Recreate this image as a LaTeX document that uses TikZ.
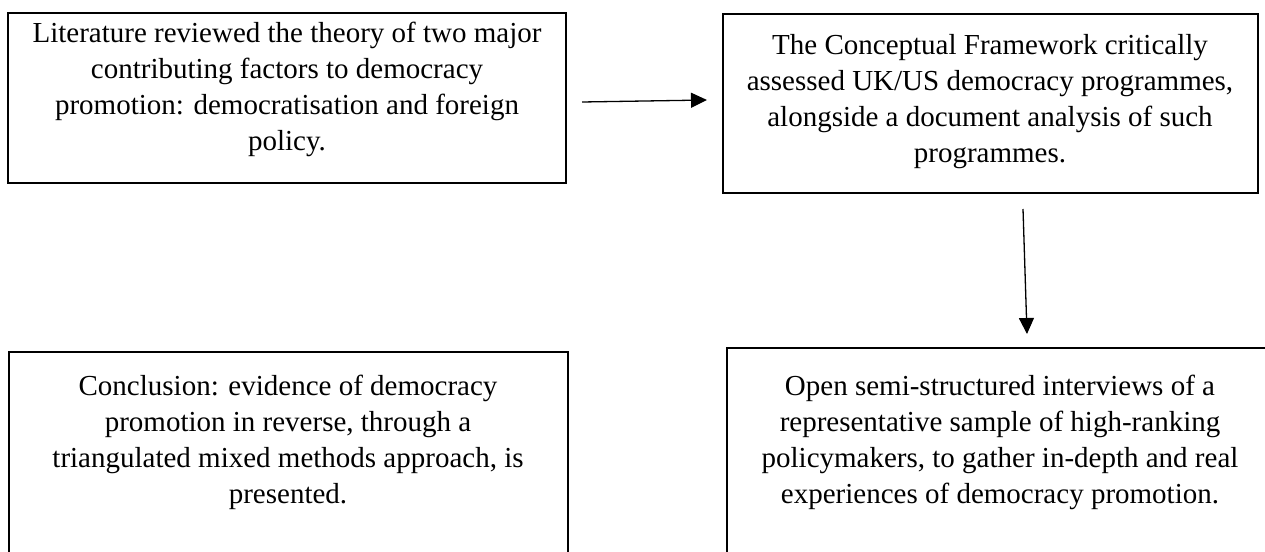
\documentclass[tikz,border=0pt]{standalone}
\usepackage{fontspec}
\setmainfont{Liberation Serif}
\usetikzlibrary{arrows.meta}
\begin{document}
\begin{tikzpicture}[x=1pt,y=-1pt,
  stagebox/.style={draw=black, line width=2.2pt, rectangle, inner sep=0pt},
  stagetext/.style={anchor=north, align=center, inner sep=0pt,
                    font=\fontsize{29}{36}\selectfont},
  flow/.style={line width=1.3pt, -{Triangle[length=16pt,width=15pt]}}]
\clip (0,0) rectangle (1265,551);

% stage boxes
\node[stagebox, minimum width=558pt, minimum height=170pt] (b1) at (287,98) {};
\node[stagebox, minimum width=535pt, minimum height=179pt] (b2) at (990.5,103.5) {};
\node[stagebox, minimum width=559pt, minimum height=248pt] (b3) at (288.5,476) {};
\node[stagebox, minimum width=548pt, minimum height=252pt] (b4) at (1001,474) {};

% stage descriptions
\node[stagetext] (t1) at (287,22) {Literature reviewed the theory of two major\\contributing factors to democracy\\promotion: democratisation and foreign\\policy.};
\node[stagetext] (t2) at (990,34) {The Conceptual Framework critically\\assessed UK/US democracy programmes,\\alongside a document analysis of such\\programmes.};
\node[stagetext] (t3) at (288,375) {Conclusion: evidence of democracy\\promotion in reverse, through a\\triangulated mixed methods approach, is\\presented.};
\node[stagetext] (t4) at (1000,375) {Open semi-structured interviews of a\\representative sample of high-ranking\\policymakers, to gather in-depth and real\\experiences of democracy promotion.};

% flow arrows
\coordinate (a1s) at (582,102);
\coordinate (a1e) at (707,100);
\coordinate (a2s) at (1023,209);
\coordinate (a2e) at (1027,334);
\draw[flow] (a1s) -- (a1e);
\draw[flow] (a2s) -- (a2e);
\end{tikzpicture}
\end{document}
